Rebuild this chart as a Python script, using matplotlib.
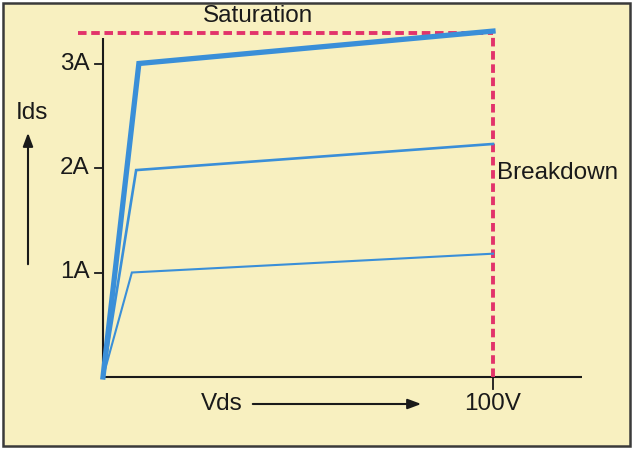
import matplotlib
matplotlib.use("Agg")
import matplotlib.pyplot as plt
from matplotlib.patches import Rectangle

plt.rcParams['font.family'] = ['Liberation Sans', 'DejaVu Sans']

# Data (Vds in V, Ids in A)
curve_high_v = [0, 9.2, 100]
curve_high_i = [0, 3.0, 3.31]
curve_mid_v = [0, 8.5, 100]
curve_mid_i = [0, 1.98, 2.23]
curve_low_v = [0, 7.4, 100]
curve_low_i = [0, 1.0, 1.18]
ytick_vals = [1, 2, 3]
ytick_labels = ["1A", "2A", "3A"]
xtick_vals = [100]
xtick_labels = ["100V"]
saturation_level = 3.29
breakdown_v = 100

W, H = 633, 450
fig = plt.figure(figsize=(W / 100, H / 100), dpi=100)
fig.patch.set_facecolor("white")
ax = fig.add_axes([0, 0, 1, 1])

# pixel mapping: px = 103 + 3.9*V ; py(from top) = 377 - 104.5*I
sx, ox = 3.9, 103
sy, oy = 104.5, 377
ax.set_xlim((0 - ox) / sx, (W - ox) / sx)
ax.set_ylim((oy - H) / sy, (oy - 0) / sy)
ax.axis("off")

def px2v(px):
    return (px - ox) / sx

def py2i(py):
    return (oy - py) / sy

bg = "#F8F0C0"
pink = "#E2336B"
blue = "#3A8FD8"
dark = "#1A1A1A"
fs = 17.5

# frame
x0, x1 = px2v(3), px2v(630)
y0, y1 = py2i(446), py2i(3)
ax.add_patch(Rectangle((x0, y0), x1 - x0, y1 - y0, facecolor=bg,
                       edgecolor="#3A3A3A", linewidth=1.8, zorder=0))

# axes lines
ax.plot([0, 0], [0, py2i(38)], color=dark, lw=1.5, zorder=2, solid_capstyle="butt")
ax.plot([0, px2v(582)], [0, 0], color=dark, lw=1.5, zorder=2, solid_capstyle="butt")

# y ticks
for v, lab in zip(ytick_vals, ytick_labels):
    ax.plot([px2v(95), 0], [v, v], color=dark, lw=1.3, zorder=2)
    ax.text(px2v(89.5), v, lab, ha="right", va="center", fontsize=fs, color=dark)

# x ticks
for v, lab in zip(xtick_vals, xtick_labels):
    ax.plot([v, v], [0, py2i(389)], color=dark, lw=1.3, zorder=2)
    ax.text(v, py2i(404), lab, ha="center", va="center", fontsize=fs, color=dark)

# limit lines
ax.plot([px2v(78), breakdown_v], [saturation_level, saturation_level], color=pink,
        lw=2.8, ls=(0, (2.2, 1.2)), zorder=3)
ax.plot([breakdown_v, breakdown_v], [0, saturation_level], color=pink,
        lw=2.8, ls=(0, (2.2, 1.2)), zorder=3)

# curves
ax.plot(curve_low_v, curve_low_i, color=blue, lw=1.5, zorder=4, solid_joinstyle="miter")
ax.plot(curve_mid_v, curve_mid_i, color=blue, lw=1.9, zorder=4, solid_joinstyle="miter")
ax.plot(curve_high_v, curve_high_i, color=blue, lw=3.8, zorder=5, solid_joinstyle="miter")

# labels
ax.text(px2v(258), py2i(16), "Saturation", ha="center", va="center", fontsize=fs, color=dark)
ax.text(px2v(497), py2i(173), "Breakdown", ha="left", va="center", fontsize=fs, color=dark)
ax.text(px2v(222), py2i(404), "Vds", ha="center", va="center", fontsize=fs, color=dark)
ax.text(px2v(32), py2i(113), "Ids", ha="center", va="center", fontsize=fs, color=dark)

# arrows
ax.annotate("", xy=(px2v(424), py2i(404)), xytext=(px2v(250), py2i(404)),
            arrowprops=dict(arrowstyle="-|>,head_length=0.8,head_width=0.3",
                            color=dark, lw=1.5))
ax.annotate("", xy=(px2v(28), py2i(130)), xytext=(px2v(28), py2i(267)),
            arrowprops=dict(arrowstyle="-|>,head_length=0.8,head_width=0.3",
                            color=dark, lw=1.5))

fig.savefig("out.png", dpi=100, facecolor=fig.get_facecolor())
